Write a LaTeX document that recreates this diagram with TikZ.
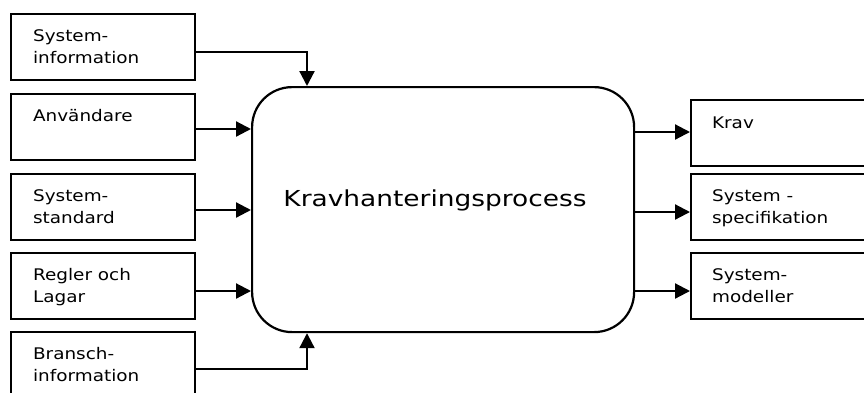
\documentclass[tikz,border=0pt]{standalone}
\usepackage{fontspec}
\setmainfont{DejaVu Sans}
\newfontfamily\boxfont[FakeStretch=1.15]{DejaVu Sans}
\newfontfamily\mainfont[FakeStretch=1.2]{DejaVu Sans}
\usetikzlibrary{arrows.meta}
\tikzset{
  inbox/.style={draw, rectangle, anchor=north west, inner sep=0pt,
                minimum width=184pt, minimum height=66pt},
  outbox/.style={draw, rectangle, anchor=north west, inner sep=0pt,
                 minimum width=200pt, minimum height=66pt},
  % multi-line text nodes sit on the baseline of their last line
  boxtext/.style={anchor=base west, inner sep=0pt, align=left,
                  font=\boxfont\fontsize{16}{22}\selectfont},
  flow/.style={-{Triangle[length=15pt,width=15pt]}},
}
\begin{document}
\begin{tikzpicture}[x=1pt, y=-1pt, line width=2.2pt]
\useasboundingbox (0,0) rectangle (864,392);
\clip (0,0) rectangle (864,392);

% input boxes
\node[inbox] (sysinfo) at (10,13) {};
\node[inbox] (users)   at (10,93) {};
\node[inbox] (sysstd)  at (10,173) {};
\node[inbox] (rules)   at (10,252) {};
\node[inbox] (branch)  at (10,331) {};

\node[boxtext] (t1) at (32,63) {System-\\information};
\node[boxtext] (t2) at (32,121) {Användare};
\node[boxtext] (t3) at (32,223) {System-\\standard};
\node[boxtext] (t4) at (32,302) {Regler och\\Lagar};
\node[boxtext] (t5) at (32,381) {Bransch-\\information};

% central process
\node[draw, rectangle, rounded corners=40pt, anchor=north west, inner sep=0pt,
      minimum width=382pt, minimum height=245pt] (proc) at (251,86) {};
\node[anchor=base, inner sep=0pt, font=\mainfont\fontsize{22}{26}\selectfont]
  (ptext) at (435,206) {Kravhanteringsprocess};

% output boxes
\node[outbox] (krav) at (690,99) {};
\node[outbox] (spec) at (690,173) {};
\node[outbox] (model) at (690,252) {};

\node[boxtext] (t6) at (711,128) {Krav};
\node[boxtext] (t7) at (711,223) {System -\\specifikation};
\node[boxtext] (t8) at (711,302) {System-\\modeller};

% connectors into the process
\draw[flow] (sysinfo.east |- 0,52) -| (proc.north -| 307,0);
\draw[flow] (users.east |- 0,129) -- (proc.west |- 0,129);
\draw[flow] (sysstd.east |- 0,210) -- (proc.west |- 0,210);
\draw[flow] (rules.east |- 0,291) -- (proc.west |- 0,291);
\draw[flow] (branch.east |- 0,369) -| (proc.south -| 307,0);

% connectors out of the process
\draw[flow] (proc.east |- 0,132) -- (krav.west |- 0,132);
\draw[flow] (proc.east |- 0,212) -- (spec.west |- 0,212);
\draw[flow] (proc.east |- 0,291) -- (model.west |- 0,291);
\end{tikzpicture}
\end{document}
